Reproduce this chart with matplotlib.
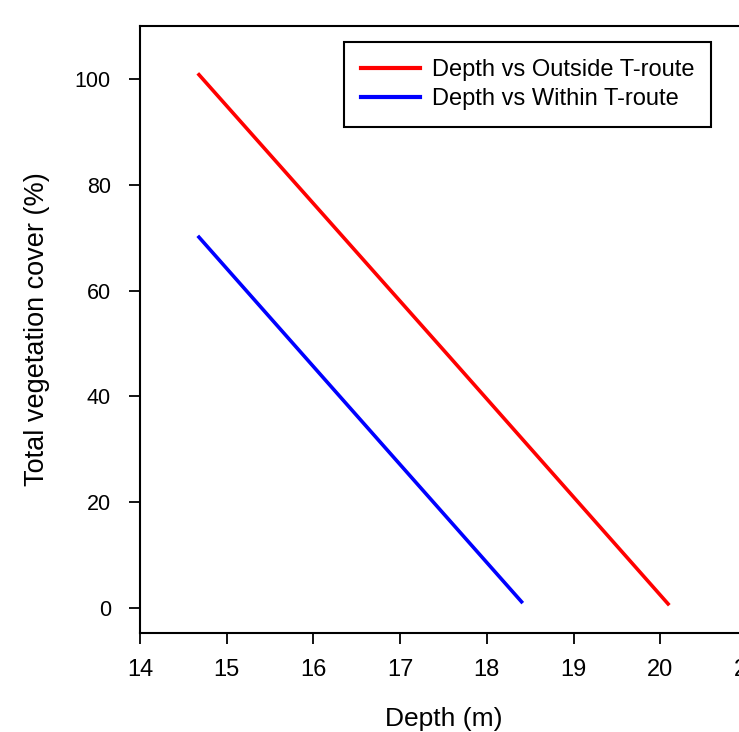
import matplotlib
matplotlib.use('Agg')
import matplotlib.pyplot as plt

plt.rcParams['font.family'] = ['Liberation Sans', 'DejaVu Sans']

# values
depth_outside = [14.68, 17.58, 20.09]
cover_outside = [100.8, 47.3, 0.8]
depth_within = [14.68, 16.92, 18.40]
cover_within = [70.1, 28.6, 1.2]

x_ticks = [14, 15, 16, 17, 18, 19, 20, 21]
y_ticks = [0, 20, 40, 60, 80, 100]

fig = plt.figure(figsize=(7.39, 7.32), dpi=100)
ax = fig.add_axes([140 / 739, 99 / 732, 607 / 739, 607 / 732])

ax.plot(depth_outside, cover_outside, color='#ff0000', lw=2.6, label='Depth vs Outside T-route')
ax.plot(depth_within, cover_within, color='#0000ff', lw=2.6, label='Depth vs Within T-route')

ax.set_xlim(14, 21)
ax.set_ylim(-4.7, 110)
ax.set_xticks(x_ticks)
ax.set_yticks(y_ticks)
ax.tick_params(direction='out', length=8, width=1.3, pad=13, colors='black')
ax.tick_params(axis='x', labelsize=17, pad=11)
ax.tick_params(axis='y', labelsize=15.5)
for s in ax.spines.values():
    s.set_linewidth(1.5)

ax.set_xlabel('Depth (m)', fontsize=19)
ax.set_ylabel('Total vegetation cover (%)', fontsize=19.5)
ax.xaxis.set_label_coords(0.5, -(707 - 633) / 607)
ax.yaxis.set_label_coords(-(140 - 50) / 607, 0.5)

leg = ax.legend(loc='upper left', bbox_to_anchor=((344 - 140) / 607, 1 - (42 - 26) / 607),
                prop={'size': 17}, frameon=True, fancybox=False, handlelength=2.5,
                borderpad=0.72, labelspacing=0.3, handletextpad=0.5, borderaxespad=0)
leg.get_frame().set_edgecolor('black')
leg.get_frame().set_linewidth(1.5)
leg.get_frame().set_alpha(1)
for line in leg.get_lines():
    line.set_linewidth(3)

fig.savefig('out.png', dpi=100)
